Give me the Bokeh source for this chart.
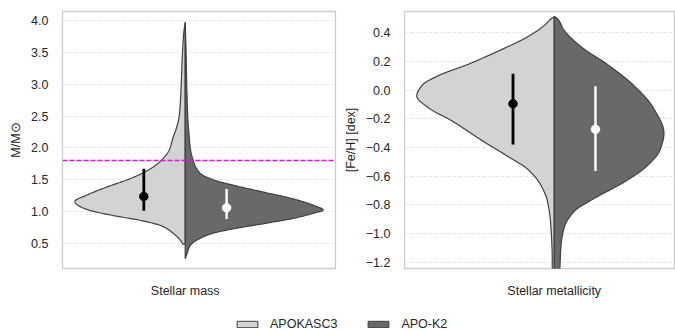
import numpy as np
from bokeh.plotting import figure
from bokeh.models import (Range1d, FixedTicker, CustomJSTickFormatter, Span,
                          Legend, LegendItem)
from bokeh.layouts import column, row
from bokeh.embed import file_html
from bokeh.resources import INLINE

# ---------------- data ----------------
groups = ["APOKASC3", "APO-K2"]
categories = ["Stellar mass", "Stellar metallicity"]

# Stellar mass violin outlines: y values and relative density (half-width)
mass_light_y = [0.489, 0.54, 0.668, 0.769, 0.856, 0.921, 0.983, 1.039, 1.126, 1.161,
                1.253, 1.380, 1.532, 1.660, 1.798, 1.966, 2.169, 2.3, 2.5, 3.0, 3.4, 3.8, 3.97]
mass_light_d = [2.5, 4.3, 12.7, 22.7, 42.7, 66, 86, 99.3, 109.3, 110.3,
                99.3, 79.3, 52.7, 36, 24.3, 16, 12, 9, 6, 4, 3, 1.5, 0]
mass_dark_y = [0.26, 0.35, 0.44, 0.515, 0.59, 0.67, 0.74, 0.82, 0.90, 0.973, 1.024,
               1.10, 1.20, 1.30, 1.40, 1.50, 1.60, 1.80, 2.0, 2.17, 2.5, 3.0, 3.4, 3.97]
mass_dark_d = [0, 2, 4, 8, 16, 30, 52, 82, 110, 128, 138,
               128, 108, 80, 52, 28, 15, 8, 5, 4, 2.5, 1.5, 1, 0]

# Stellar metallicity violin outlines
feh_light_y = [-1.245, -1.186, -0.96, -0.78, -0.666, -0.553, -0.463, -0.35, -0.214, -0.124,
               -0.041, 0.034, 0.102, 0.181, 0.283, 0.373, 0.452, 0.497, 0.513]
feh_light_d = [2, 2, 3.3, 6.7, 13.3, 26.7, 46.7, 73.3, 103.3, 126.7,
               138.7, 133.3, 116.7, 86.7, 53.3, 26.7, 10, 3.3, 0]
feh_dark_y = [-1.245, -1.096, -0.96, -0.847, -0.757, -0.644, -0.531, -0.418, -0.3, -0.124,
              0.034, 0.181, 0.305, 0.418, 0.508, 0.513]
feh_dark_d = [5.7, 6.7, 10, 20, 40, 70, 93.3, 106.7, 110.7, 100,
              80, 53.3, 26.7, 10, 1.7, 0]

# summary markers: central value and interval per group
mass_center = [1.237, 1.059]
mass_low = [1.013, 0.882]
mass_high = [1.672, 1.355]
feh_center = [-0.095, -0.273]
feh_low = [-0.38, -0.565]
feh_high = [0.115, 0.027]

mass_ticks = [0.5, 1.0, 1.5, 2.0, 2.5, 3.0, 3.5, 4.0]
feh_ticks = [-1.2, -1.0, -0.8, -0.6, -0.4, -0.2, 0.0, 0.2, 0.4]
mass_threshold = 1.8

# ---------------- style ----------------
FONT = "Liberation Sans"
LIGHT = "#d3d3d3"
DARK = "#696969"
EDGE = "#3f3f3f"
TXT = "#262626"
HALF = 0.4     # max half-width of a violin
DODGE = 0.12   # marker offset


def smooth_outline(ys, ds, n=400):
    """Monotone cubic (PCHIP) curve through the read outline points, for drawing."""
    x = np.asarray(ys, float)
    y = np.asarray(ds, float)
    h = np.diff(x)
    delta = np.diff(y) / h
    m = np.zeros_like(y)
    for k in range(1, len(y) - 1):
        if delta[k - 1] * delta[k] > 0:
            w1 = 2 * h[k] + h[k - 1]
            w2 = h[k] + 2 * h[k - 1]
            m[k] = (w1 + w2) / (w1 / delta[k - 1] + w2 / delta[k])
    m[0] = delta[0]
    m[-1] = delta[-1]
    xn = np.linspace(x[0], x[-1], n)
    idx = np.clip(np.searchsorted(x, xn) - 1, 0, len(x) - 2)
    t = (xn - x[idx]) / h[idx]
    h00 = 2 * t**3 - 3 * t**2 + 1
    h10 = t**3 - 2 * t**2 + t
    h01 = -2 * t**3 + 3 * t**2
    h11 = t**3 - t**2
    yn = h00 * y[idx] + h10 * h[idx] * m[idx] + h01 * y[idx + 1] + h11 * h[idx] * m[idx + 1]
    return xn, np.clip(yn, 0, None)


def half_violin(p, ys, ds, dmax, side, color):
    yy, dd = smooth_outline(ys, ds)
    xs = list(side * HALF * dd / dmax)
    px = xs + [0, 0]
    py = list(yy) + [yy[-1], yy[0]]
    p.patch(px, py, fill_color=color, line_color=EDGE, line_width=1.2)


def style(p, ylabel, ticks, cat):
    p.outline_line_color = "#cccccc"
    p.outline_line_width = 1.3
    p.xgrid.visible = False
    p.ygrid.grid_line_color = "#e8e8e8"
    p.ygrid.grid_line_dash = "4 2"
    p.ygrid.grid_line_width = 1
    for ax in (p.xaxis[0], p.yaxis[0]):
        ax.axis_line_color = None
        ax.major_tick_line_color = None
        ax.minor_tick_line_color = None
        ax.major_label_text_font = FONT
        ax.major_label_text_font_size = "12.5px"
        ax.major_label_text_color = TXT
        ax.axis_label_text_font = FONT
        ax.axis_label_text_font_size = "12.5px"
        ax.axis_label_text_font_style = "normal"
        ax.axis_label_text_color = TXT
    p.yaxis[0].ticker = FixedTicker(ticks=ticks)
    p.yaxis[0].formatter = CustomJSTickFormatter(
        code="return tick.toFixed(1).replace('-', '\u2212');")
    p.yaxis[0].major_label_standoff = 8
    p.yaxis[0].axis_label = ylabel
    p.yaxis[0].axis_label_standoff = 5
    p.xaxis[0].ticker = FixedTicker(ticks=[0])
    p.xaxis[0].major_label_overrides = {0: cat}
    p.xaxis[0].major_label_standoff = 9


def panel(width, border_left, border_right, xr, yr, ylabel, ticks, cat,
          ly, ld, dy, dd, center, low, high):
    p = figure(width=width, height=300, x_range=Range1d(*xr), y_range=Range1d(*yr),
               min_border_left=border_left, min_border_right=border_right,
               min_border_top=11, min_border_bottom=25,
               output_backend="svg", toolbar_location=None)
    dmax = max(max(ld), max(dd))
    half_violin(p, ly, ld, dmax, -1, LIGHT)
    half_violin(p, dy, dd, dmax, 1, DARK)
    xs = [-DODGE, DODGE]
    cols = ["black", "white"]
    lw = [2.8, 2.4]
    for i in range(2):
        p.segment(x0=[xs[i]], y0=[low[i]], x1=[xs[i]], y1=[high[i]],
                  line_color=cols[i], line_width=lw[i])
        p.scatter(x=[xs[i]], y=[center[i]], size=8.5, fill_color=cols[i],
                  line_color=cols[i])
    style(p, ylabel, ticks, cat)
    return p


p1 = panel(340, 62, 5, (-0.3557, 0.4356), (0.107, 4.14), "M/M\u2299", mass_ticks,
           categories[0], mass_light_y, mass_light_d, mass_dark_y, mass_dark_d,
           mass_center, mass_low, mass_high)
p1.add_layout(Span(location=mass_threshold, dimension="width", line_color="#ff00ff",
                   line_dash="5 2", line_width=1.5))

p2 = panel(335, 63, 1, (-0.4357, 0.3499), (-1.245, 0.549), "[Fe/H] [dex]", feh_ticks,
           categories[1], feh_light_y, feh_light_d, feh_dark_y, feh_dark_d,
           feh_center, feh_low, feh_high)

# legend strip (swatch renderers sit outside the visible range)
p3 = figure(width=675, height=31, x_range=Range1d(0, 1), y_range=Range1d(0, 1),
            min_border=0, output_backend="svg", toolbar_location=None)
p3.axis.visible = False
p3.grid.visible = False
p3.outline_line_color = None
r_light = p3.quad(left=[5], right=[6], top=[6], bottom=[5], fill_color=LIGHT,
                  line_color=EDGE, line_width=1)
r_dark = p3.quad(left=[5], right=[6], top=[6], bottom=[5], fill_color=DARK,
                 line_color=EDGE, line_width=1)
leg = Legend(items=[LegendItem(label=groups[0], renderers=[r_light]),
                    LegendItem(label=groups[1], renderers=[r_dark])],
             orientation="horizontal", location=(234, 0),
             glyph_width=26, glyph_height=8, label_standoff=10, spacing=28,
             padding=0, margin=0, border_line_color=None, background_fill_alpha=0,
             label_text_font=FONT, label_text_font_size="12.5px",
             label_text_color=TXT, label_height=8)
p3.add_layout(leg)

layout = column(row(p1, p2), p3)
open("out.html", "w").write(file_html(layout, INLINE))
